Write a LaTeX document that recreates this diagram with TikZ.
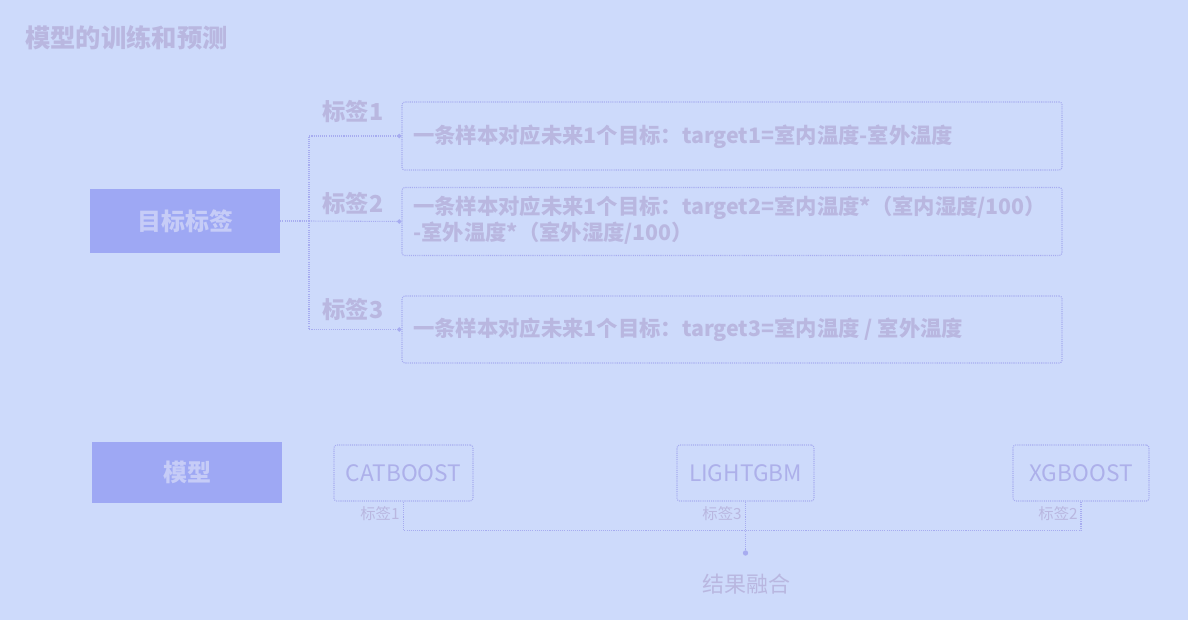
\documentclass[tikz,border=0pt]{standalone}
\usepackage{fontspec}
\setmainfont{Noto Sans CJK SC}
\usetikzlibrary{arrows.meta}
\definecolor{bg}{HTML}{CDDAFB}
\definecolor{txt}{HTML}{B9B7E0}
\definecolor{fillbox}{HTML}{9EA8F4}
\definecolor{filltxt}{HTML}{C6CCF7}
\definecolor{ln}{HTML}{A7ACF0}
\definecolor{mtxt}{HTML}{ADB0EA}
\tikzset{
  dline/.style={draw=ln, line width=0.8pt, dash pattern=on 0.8pt off 0.8pt},
  tbox/.style={dline, rounded corners=2pt, minimum width=495pt, minimum height=51pt, inner sep=0pt},
  fbox/.style={fill=fillbox, draw=none, minimum width=142.5pt, text=filltxt, font=\fontsize{18}{20}\selectfont\bfseries},
  mbox/.style={dline, rounded corners=2pt, minimum height=42pt, text=mtxt, font=\fontsize{17}{19}\selectfont, inner sep=0pt},
  lbl/.style={text=txt, font=\fontsize{17.5}{19}\selectfont\bfseries, inner sep=0pt},
  btxt/.style={text=txt, font=\fontsize{16}{19.5}\selectfont\bfseries, inner sep=0pt, anchor=west, align=left},
  slbl/.style={text=txt, font=\fontsize{11.5}{13}\selectfont, inner sep=0pt},
  tip/.style={-{Circle[length=3.2pt, width=3.2pt, fill=ln]}}
}
\begin{document}
\begin{tikzpicture}[x=0.75pt, y=-0.75pt]
\fill[bg] (0,0) rectangle (1188,620);
\useasboundingbox (0,0) rectangle (1188,620);

\node[text=txt, font=\fontsize{19}{21}\selectfont\bfseries, anchor=west, inner sep=0pt] (title) at (25,38) {模型的训练和预测};

\node[fbox, minimum height=48pt] (goal) at (185,221) {目标标签};
\node[fbox, minimum height=45.75pt] (model) at (187,472.5) {模型};

\node[tbox] (b1) at (732,136) {};
\node[tbox] (b2) at (732,221.5) {};
\node[tbox, minimum height=50.25pt] (b3) at (732,329.5) {};

\node[btxt] (t1) at (413,137) {一条样本对应未来1个目标：target1=室内温度-室外温度};
\node[btxt] (t2) at (413,220) {一条样本对应未来1个目标：target2=室内温度*（室内湿度/100）\\-室外温度*（室外湿度/100）};
\node[btxt] (t3) at (413,330) {一条样本对应未来1个目标：target3=室内温度 / 室外温度};

\node[lbl] (l1) at (353,112) {标签1};
\node[lbl] (l2) at (353,204) {标签2};
\node[lbl] (l3) at (353,310) {标签3};

\coordinate (split) at (309,221);
\draw[dline] (goal.east) -- (split);
\draw[dline, tip] (split) |- (b1.west);
\draw[dline, tip] (split) -- (b2.west);
\draw[dline, tip] (split) |- (b3.west);

\node[mbox, minimum width=104.25pt] (cat) at (403.5,473) {CATBOOST};
\node[mbox, minimum width=102.75pt] (lgb) at (745.5,473) {LIGHTGBM};
\node[mbox, minimum width=102pt] (xg) at (1081,473) {XGBOOST};

\node[slbl] (s1) at (380,514) {标签1};
\node[slbl] (s3) at (722,514) {标签3};
\node[slbl] (s2) at (1058,514) {标签2};

\coordinate (fdot) at (745.5,553);
\draw[dline] (cat.south) -- ++(0,29) -| (xg.south);
\draw[dline] (lgb.south) -- (fdot);
\fill[ln] (fdot) circle (2pt);
\node[text=txt, font=\fontsize{16.5}{18}\selectfont, inner sep=0pt] (fuse) at (746,584) {结果融合};
\end{tikzpicture}
\end{document}
